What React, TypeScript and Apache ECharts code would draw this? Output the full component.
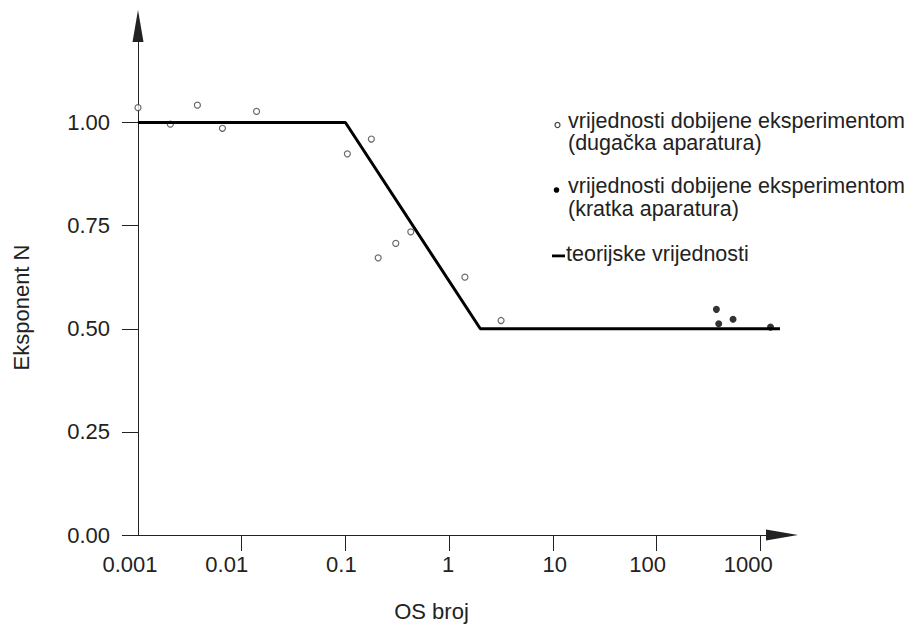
import React, { useEffect, useRef } from 'react';
import * as echarts from 'echarts';

const xTickValues = [0.001, 0.01, 0.1, 1, 10, 100, 1000];
const yTickValues = [0, 0.25, 0.5, 0.75, 1];

const theoryX = [0.001, 0.1, 2, 1550];
const theoryY = [1, 1, 0.5, 0.5];

const longX = [0.001, 0.00205, 0.00374, 0.00652, 0.0139, 0.1045, 0.178, 0.207, 0.306, 0.427, 1.42, 3.17];
const longY = [1.036, 0.996, 1.042, 0.986, 1.027, 0.924, 0.96, 0.672, 0.707, 0.735, 0.625, 0.52];

const shortX = [378, 398, 547, 1256];
const shortY = [0.547, 0.512, 0.523, 0.504];

const legendLong = ['vrijednosti dobijene eksperimentom', '(dugačka aparatura)'];
const legendShort = ['vrijednosti dobijene eksperimentom', '(kratka aparatura)'];
const legendTheory = 'teorijske vrijednosti';

const FONT = 'Liberation Sans, Arial, sans-serif';
const TEXT = '#222';

// horizontal nudge (px) of each x tick label as placed in the original figure
const xLabelShift = [-8, -15, -4, -1, 2, -9, -12];

export default function App() {
  const ref = useRef<HTMLDivElement>(null);
  useEffect(() => {
    const chart = echarts.init(ref.current as HTMLDivElement, null, { renderer: 'svg' });
    const zip = (xs: number[], ys: number[]) => xs.map((x, i) => [x, ys[i]]);
    const txt = (text: string, x: number, y: number) => ({
      type: 'text',
      x,
      y,
      style: { text, fill: TEXT, font: `21.5px ${FONT}`, verticalAlign: 'middle', align: 'left' },
    });
    const rich: Record<string, any> = {};
    xLabelShift.forEach((s, i) => {
      rich['s' + i] = {
        fontFamily: FONT,
        fontSize: 22,
        color: TEXT,
        padding: s < 0 ? [0, -2 * s, 0, 0] : [0, 0, 0, 2 * s],
      };
    });
    chart.setOption({
      animation: false,
      grid: { left: 138, right: 126, top: 26, bottom: 89, containLabel: false },
      xAxis: {
        type: 'log',
        logBase: 10,
        min: 0.001,
        max: 1622,
        name: 'OS broj',
        nameLocation: 'middle',
        nameGap: 65,
        nameTextStyle: { fontFamily: FONT, fontSize: 22, color: TEXT, padding: [0, 57, 0, 0] },
        axisLine: {
          show: true,
          onZero: false,
          symbol: ['none', 'triangle'],
          symbolSize: [11, 32],
          lineStyle: { color: '#222', width: 1 },
        },
        axisTick: { show: true, length: 16, customValues: xTickValues.slice(1), lineStyle: { color: '#222' } },
        axisLabel: {
          customValues: xTickValues,
          margin: 18,
          fontFamily: FONT,
          fontSize: 22,
          color: TEXT,
          rich,
          formatter: (v: number) => {
            let idx = 0;
            let best = Infinity;
            xTickValues.forEach((t, i) => {
              const d = Math.abs(Math.log10(t) - Math.log10(v));
              if (d < best) {
                best = d;
                idx = i;
              }
            });
            return `{s${idx}|${String(xTickValues[idx])}}`;
          },
        },
        splitLine: { show: false },
        minorTick: { show: false },
      },
      yAxis: {
        type: 'value',
        min: 0,
        max: 1.234,
        interval: 0.25,
        name: 'Eksponent N',
        nameLocation: 'middle',
        nameGap: 106,
        nameRotate: 90,
        nameTextStyle: { fontFamily: FONT, fontSize: 22, color: TEXT, padding: [0, 54, 0, 0] },
        axisLine: {
          show: true,
          onZero: false,
          symbol: ['none', 'triangle'],
          symbolSize: [11, 32],
          lineStyle: { color: '#222', width: 1 },
        },
        axisTick: { show: true, length: 16, customValues: yTickValues, lineStyle: { color: '#222' } },
        axisLabel: {
          customValues: yTickValues,
          margin: 28,
          fontFamily: FONT,
          fontSize: 22,
          color: TEXT,
          formatter: (v: number) => v.toFixed(2),
        },
        splitLine: { show: false },
      },
      series: [
        {
          name: 'teorijske vrijednosti',
          type: 'line',
          data: zip(theoryX, theoryY),
          symbol: 'none',
          lineStyle: { color: '#000', width: 3 },
          z: 3,
        },
        {
          name: 'dugačka aparatura',
          type: 'scatter',
          data: zip(longX, longY),
          symbol: 'circle',
          symbolSize: 6,
          clip: false,
          itemStyle: { color: '#fff', borderColor: '#444', borderWidth: 1.2 },
          z: 2,
        },
        {
          name: 'kratka aparatura',
          type: 'scatter',
          data: zip(shortX, shortY),
          symbol: 'circle',
          symbolSize: 7,
          clip: false,
          itemStyle: { color: '#000' },
          z: 4,
        },
      ],
      graphic: [
        { type: 'circle', shape: { cx: 557.5, cy: 125, r: 2.5 }, style: { fill: '#fff', stroke: '#444', lineWidth: 1.2 } },
        txt(legendLong[0], 568, 120.8),
        txt(legendLong[1], 568, 143.2),
        { type: 'circle', shape: { cx: 556.5, cy: 190, r: 2.8 }, style: { fill: '#000' } },
        txt(legendShort[0], 568, 185.8),
        txt(legendShort[1], 568, 208.5),
        { type: 'rect', shape: { x: 552, y: 254.5, width: 13, height: 2.8 }, style: { fill: '#000' } },
        txt(legendTheory, 566, 254.2),
      ],
    });
    return () => chart.dispose();
  }, []);
  return <div ref={ref} style={{ position: 'absolute', left: 0, top: 0, width: 908, height: 627 }} />;
}
